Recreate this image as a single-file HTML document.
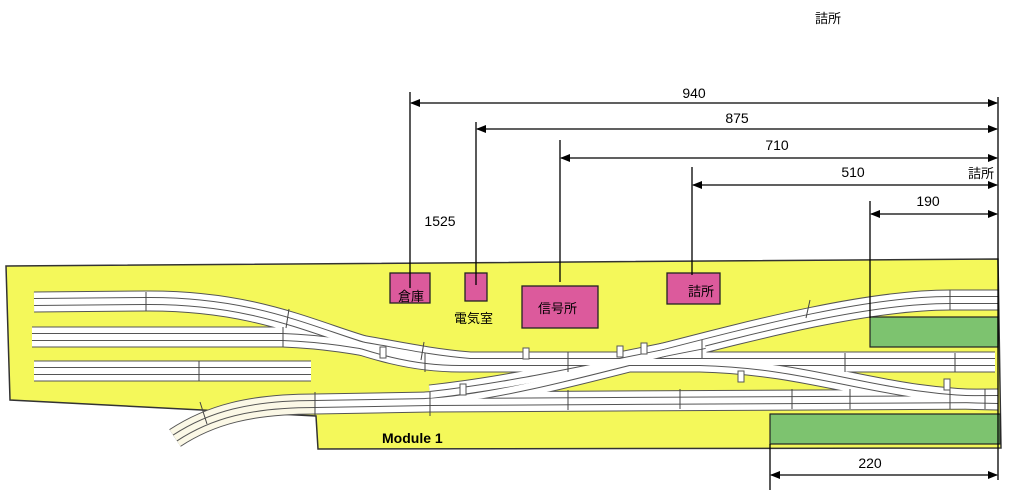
<!DOCTYPE html>
<html><head><meta charset="utf-8"><style>
html,body{margin:0;padding:0;background:#fff;}
svg{display:block;font-family:"Liberation Sans","Noto Sans CJK JP",sans-serif;}
</style></head><body>
<svg width="1024" height="494" viewBox="0 0 1024 494" xmlns="http://www.w3.org/2000/svg">
<defs>
<marker id="a" markerWidth="10" markerHeight="8" refX="9" refY="4" orient="auto-start-reverse" markerUnits="userSpaceOnUse"><path d="M0,0 L10,4 L0,8 z" fill="#000"/></marker>
</defs>
<text x="815" y="23" font-size="13" fill="#000">詰所</text>
<polygon points="6,266 998,259 1001,448 318,449 316,416 10,400" fill="#f4f85a" stroke="#333" stroke-width="1.5"/>
<g fill="none" stroke-linecap="butt">
<g stroke="#555" stroke-width="21">
<path d="M34,302 L146,301 C300,300 350,362 460,362 L995,362"/>
<path d="M32,337 L283,337 C360,340 400,356 470,362"/>
<path d="M34,371 L311,371"/>
<path d="M315,404 L430,402 L998,399"/>
<path d="M425,402 C560,395 800,300 950,300 L998,300"/>
<path d="M700,362 C820,365 880,400 998,400"/>
<path d="M430,395 C520,385 600,365 705,345"/>
<path d="M315,404 C250,404 210,415 175,438"/>
</g>
<path d="M315,404 C250,404 210,415 175,438" stroke="#fbf8e6" stroke-width="19"/>
<g stroke="#fff" stroke-width="19">
<path d="M34,302 L146,301 C300,300 350,362 460,362 L995,362"/>
<path d="M32,337 L283,337 C360,340 400,356 470,362"/>
<path d="M34,371 L311,371"/>
<path d="M315,404 L430,402 L998,399"/>
<path d="M425,402 C560,395 800,300 950,300 L998,300"/>
<path d="M700,362 C820,365 880,400 998,400"/>
<path d="M430,395 C520,385 600,365 705,345"/>
</g>
<g stroke="#555" stroke-width="8">
<path d="M34,302 L146,301 C300,300 350,362 460,362 L995,362"/>
<path d="M32,337 L283,337 C360,340 400,356 470,362"/>
<path d="M34,371 L311,371"/>
<path d="M315,404 L430,402 L998,399"/>
<path d="M425,402 C560,395 800,300 950,300 L998,300"/>
<path d="M700,362 C820,365 880,400 998,400"/>
<path d="M430,395 C520,385 600,365 705,345"/>
<path d="M315,404 C250,404 210,415 175,438"/>
</g>
<g stroke="#fff" stroke-width="6">
<path d="M34,302 L146,301 C300,300 350,362 460,362 L995,362"/>
<path d="M32,337 L283,337 C360,340 400,356 470,362"/>
<path d="M34,371 L311,371"/>
<path d="M315,404 L430,402 L998,399"/>
<path d="M425,402 C560,395 800,300 950,300 L998,300"/>
<path d="M700,362 C820,365 880,400 998,400"/>
<path d="M430,395 C520,385 600,365 705,345"/>
</g>
<path d="M315,404 C250,404 210,415 175,438" stroke="#fbf8e6" stroke-width="6"/>
<g stroke="#444" stroke-width="1">
<path d="M146,292V311 M283,327V347 M199,361V381 M289,309L286,328 M424,342L421,360 M425,353V372 M568,352V372 M702,340V358 M845,353V372 M955,353V372 M680,389V409 M792,389V409 M850,389V409 M950,389V409 M568,390V410 M200,402L207,424 M315,392V416 M430,392V416 M810,300L806,318 M950,290V310 M985,389V409"/>
</g>
</g>
<g fill="#fff" stroke="#555" stroke-width="1">
<rect x="380" y="347" width="6" height="11"/><rect x="523" y="348" width="6" height="11"/>
<rect x="617" y="346" width="6" height="11"/><rect x="641" y="343" width="6" height="11"/>
<rect x="738" y="371" width="6" height="11"/><rect x="944" y="379" width="6" height="11"/>
<rect x="460" y="384" width="6" height="11"/>
</g>
<rect x="870" y="317" width="128" height="30" fill="#7dc36f" stroke="#222" stroke-width="1.2"/>
<rect x="770" y="414" width="230" height="30" fill="#7dc36f" stroke="#222" stroke-width="1.2"/>
<g fill="#dc5a9c" stroke="#222" stroke-width="1.3">
<rect x="390" y="273" width="40" height="30"/>
<rect x="465" y="273" width="22" height="28"/>
<rect x="522" y="286" width="76" height="42"/>
<rect x="667" y="273" width="53" height="31"/>
</g>
<g font-size="13" fill="#000">
<text x="398" y="301">倉庫</text>
<text x="454" y="323">電気室</text>
<text x="538" y="313">信号所</text>
<text x="688" y="296">詰所</text>
<text x="968" y="178">詰所</text>
<text x="382" y="443" font-weight="bold" font-size="14">Module 1</text>
</g>
<g stroke="#000" stroke-width="1.3">
<line x1="998" y1="97" x2="998" y2="480"/>
<line x1="410" y1="92" x2="410" y2="288"/>
<line x1="476" y1="122" x2="476" y2="285"/>
<line x1="560" y1="140" x2="560" y2="282"/>
<line x1="692" y1="167" x2="692" y2="275"/>
<line x1="870" y1="201" x2="870" y2="318"/>
<line x1="770" y1="444" x2="770" y2="490"/>
<line x1="411" y1="103" x2="997" y2="103" marker-start="url(#a)" marker-end="url(#a)"/>
<line x1="477" y1="129" x2="997" y2="129" marker-start="url(#a)" marker-end="url(#a)"/>
<line x1="561" y1="158" x2="997" y2="158" marker-start="url(#a)" marker-end="url(#a)"/>
<line x1="693" y1="185" x2="997" y2="185" marker-start="url(#a)" marker-end="url(#a)"/>
<line x1="871" y1="214" x2="997" y2="214" marker-start="url(#a)" marker-end="url(#a)"/>
<line x1="771" y1="475" x2="997" y2="475" marker-start="url(#a)" marker-end="url(#a)"/>
</g>
<g font-size="14" fill="#000" text-anchor="middle">
<text x="694" y="98">940</text>
<text x="737" y="123">875</text>
<text x="777" y="150">710</text>
<text x="853" y="177">510</text>
<text x="928" y="206">190</text>
<text x="440" y="226">1525</text>
<text x="870" y="468">220</text>
</g>
</svg>
</body></html>
